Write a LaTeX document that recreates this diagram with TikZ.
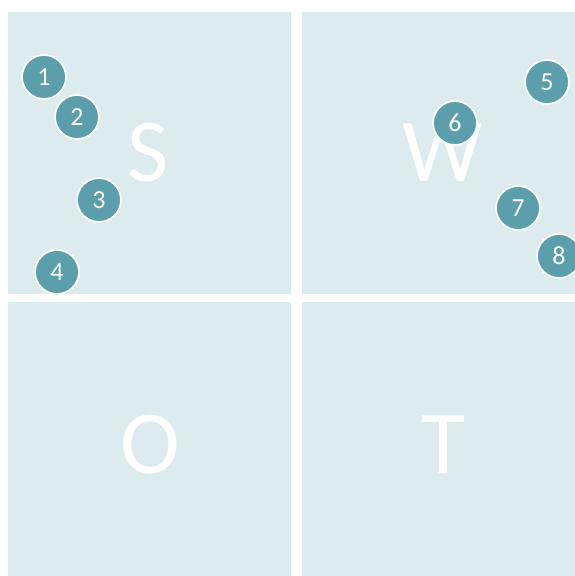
\documentclass[tikz,border=0pt]{standalone}
\usepackage{fontspec}
\setmainfont{Carlito}
\definecolor{quad}{HTML}{DCEBEE}
\definecolor{dot}{HTML}{5A9FAB}
\begin{document}
\begin{tikzpicture}[x=1pt,y=-1pt,
  quadbox/.style={fill=quad,draw=none},
  bigletter/.style={text=white,font=\fontsize{90}{90}\selectfont,inner sep=0pt},
  numdot/.style={circle,fill=dot,draw=white,line width=1.8pt,minimum size=44pt,inner sep=0pt,text=white,font=\fontsize{26}{26}\selectfont}]
\useasboundingbox (0,0) rectangle (575,576);
\fill[white] (0,0) rectangle (575,576);
\fill[quadbox] (8,12) rectangle (291,294);
\fill[quadbox] (302,12) rectangle (575,294);
\fill[quadbox] (8,302) rectangle (291,576);
\fill[quadbox] (302,302) rectangle (575,576);
\node[bigletter] (S) at (148,153) {S};
\node[bigletter] (W) at (443,153) {W};
\node[bigletter] (O) at (150,445) {O};
\node[bigletter] (T) at (443,445) {T};
\node[numdot] (n1) at (44,77) {1};
\node[numdot] (n2) at (77,117) {2};
\node[numdot] (n3) at (99,200) {3};
\node[numdot] (n4) at (57,272) {4};
\node[numdot] (n5) at (547,82) {5};
\node[numdot] (n6) at (455,123) {6};
\node[numdot] (n7) at (518,208) {7};
\node[numdot] (n8) at (559,256) {8};
\end{tikzpicture}
\end{document}
